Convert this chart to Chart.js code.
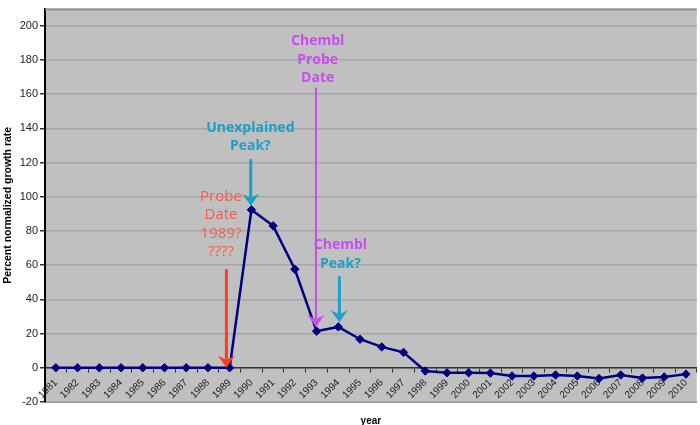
<!DOCTYPE html>
<html><head><meta charset="utf-8">
<script src="https://cdn.jsdelivr.net/npm/chart.js@4"></script>
<style>html,body{margin:0;padding:0;overflow:hidden;background:#fff}canvas{display:block}</style>
</head><body>
<canvas id="c" width="702" height="425"></canvas>
<script>
// ---- data ----
const years = ['1981','1982','1983','1984','1985','1986','1987','1988','1989','1990',
  '1991','1992','1993','1994','1995','1996','1997','1998','1999','2000',
  '2001','2002','2003','2004','2005','2006','2007','2008','2009','2010'];
const growthRate = [0,0,0,0,0,0,0,0,0,92.4,
  83,57.6,21.4,23.9,16.7,12.2,9,-1.9,-2.9,-2.9,
  -3.1,-4.8,-4.8,-4.2,-4.8,-6.3,-4.2,-6,-5.4,-3.7];
const yTicks = [-20,0,20,40,60,80,100,120,140,160,180,200];

// annotation texts
const probeText = ['Probe','Date','1989?','????'];
const unexplainedText = ['Unexplained','Peak?'];
const chemblProbeText = ['Chembl','Probe','Date'];
const chemblPeakText = ['Chembl','Peak?'];

// annotations (anchors in data units: x = category index, y = value)
const RED_T = '#f0604e', RED_A = '#ff3b1f', CYAN = '#1ba0c8', MAG = '#c84cf0';
const notes = [
  {text: probeText, colors:[RED_T,RED_T,RED_T,RED_T], bold:false, size:15, tx:7.6, ty:100.1,
   ax:7.85, aFrom:57.6, aTo:0, aColor:RED_A, aWidth:3},
  {text: unexplainedText, colors:[CYAN,CYAN], bold:true, size:14, tx:8.95, ty:140.3,
   ax:8.97, aFrom:122, aTo:94.7, aColor:CYAN, aWidth:3},
  {text: chemblProbeText, colors:[MAG,MAG,MAG], bold:true, size:14, tx:12.05, ty:191,
   ax:11.97, aFrom:163.7, aTo:23.9, aColor:MAG, aWidth:2},
  {text: chemblPeakText, colors:[MAG,CYAN], bold:true, size:14, tx:13.1, ty:71.5,
   ax:13.05, aFrom:53.5, aTo:26.6, aColor:CYAN, aWidth:3}
];

function arrow(ctx, x, y1, y2, color, w){
  const hl = 12, hw = 8.5, notch = 4;
  ctx.strokeStyle = color; ctx.fillStyle = color; ctx.lineWidth = w;
  ctx.beginPath(); ctx.moveTo(x, y1); ctx.lineTo(x, y2 - hl + notch); ctx.stroke();
  ctx.beginPath();
  ctx.moveTo(x, y2);
  ctx.lineTo(x - hw, y2 - hl);
  ctx.lineTo(x, y2 - hl + notch);
  ctx.lineTo(x + hw, y2 - hl);
  ctx.closePath(); ctx.fill();
}

const plotDeco = {
  id: 'plotDeco',
  beforeDraw(chart){
    const {ctx, chartArea:a} = chart;
    ctx.save();
    ctx.fillStyle = '#c0c0c0';
    ctx.fillRect(a.left, a.top, a.right - a.left, a.bottom - a.top);
    ctx.strokeStyle = '#8c8c8c'; ctx.lineWidth = 2;
    ctx.beginPath(); ctx.moveTo(a.left, a.bottom); ctx.lineTo(a.right, a.bottom); ctx.stroke();
    ctx.restore();
  },
  afterDatasetsDraw(chart){
    const {ctx, chartArea:a, scales:{x, y}} = chart;
    ctx.save();
    // top frame
    ctx.strokeStyle = '#8c8c8c'; ctx.lineWidth = 2;
    ctx.beginPath(); ctx.moveTo(a.left, a.top + 1); ctx.lineTo(a.right, a.top + 1); ctx.stroke();
    for (const n of notes){
      ctx.font = (n.bold ? 'bold ' : '') + n.size + 'px "Open Sans", sans-serif';
      ctx.textAlign = 'center'; ctx.textBaseline = 'middle';
      const tx = x.getPixelForValue(n.tx);
      const ty = y.getPixelForValue(n.ty);
      n.text.forEach((t, i) => { ctx.fillStyle = n.colors[i]; ctx.fillText(t, tx, ty + i * 18.5); });
      arrow(ctx, x.getPixelForValue(n.ax), y.getPixelForValue(n.aFrom), y.getPixelForValue(n.aTo), n.aColor, n.aWidth);
    }
    ctx.restore();
  }
};

new Chart(document.getElementById('c'), {
  type: 'line',
  data: {
    labels: years,
    datasets: [{
      data: growthRate,
      borderColor: '#000080', backgroundColor: '#000080',
      borderWidth: 2.5, tension: 0,
      pointStyle: 'rectRot', pointRadius: 4.2,
      pointBackgroundColor: '#000080', pointBorderColor: '#000080', pointBorderWidth: 1
    }]
  },
  options: {
    responsive: false, animation: false, events: [],
    layout: {padding: {top: 8, bottom: 23, left: 0, right: 0}},
    plugins: {legend: {display: false}, tooltip: {enabled: false}},
    scales: {
      x: {
        type: 'category', offset: true, position: {y: 0},
        grid: {offset: true, drawOnChartArea: false, drawTicks: true, tickLength: 4, tickColor: '#333', lineWidth: 1},
        border: {display: true, color: '#333', width: 1.5},
        ticks: {autoSkip: false, maxRotation: 45, minRotation: 45, padding: 5, color: '#222',
          font: {family: '"Liberation Sans", Arial, sans-serif', size: 10}},
        title: {display: true, text: 'year', color: '#000', padding: {top: 9, bottom: 0},
          font: {family: '"Liberation Sans", Arial, sans-serif', size: 10, weight: 'bold'}}
      },
      y: {
        min: -20, max: 210,
        afterBuildTicks: s => { s.ticks = yTicks.map(v => ({value: v})); },
        afterFit: s => { s.width = 45; },
        grid: {color: '#a6a6a6', lineWidth: 1.5, tickLength: 5, tickColor: '#333'},
        border: {color: '#000', width: 2},
        ticks: {color: '#222', padding: 2, font: {family: '"Liberation Sans", Arial, sans-serif', size: 11}},
        title: {display: true, text: 'Percent normalized growth rate', color: '#000', padding: {top: 2, bottom: 0},
          font: {family: '"Liberation Sans", Arial, sans-serif', size: 10.5, weight: 'bold'}}
      }
    }
  },
  plugins: [plotDeco]
});
</script>
</body></html>
